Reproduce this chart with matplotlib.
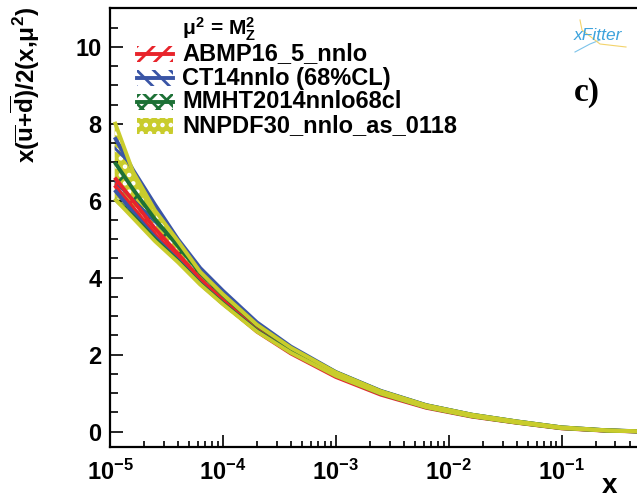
import matplotlib
matplotlib.use("Agg")
import matplotlib.pyplot as plt
from matplotlib.patches import Rectangle
from matplotlib.lines import Line2D
from matplotlib.ticker import LogLocator, NullFormatter, MultipleLocator

plt.rcParams['font.family'] = 'Liberation Sans'
plt.rcParams['font.weight'] = 'bold'
plt.rcParams['mathtext.fontset'] = 'custom'
plt.rcParams['mathtext.rm'] = 'Liberation Sans:bold'
plt.rcParams['mathtext.it'] = 'Liberation Sans:bold'
plt.rcParams['mathtext.bf'] = 'Liberation Sans:bold'
plt.rcParams['hatch.linewidth'] = 2.0

# x grid and band edges for x(ubar+dbar)/2 at mu^2 = MZ^2
x = [1.1e-5, 1.6e-5, 2.5e-5, 4e-5, 6.3e-5, 1e-4, 2e-4, 4e-4, 1e-3, 2.5e-3,
     6.3e-3, 1.6e-2, 4e-2, 0.1, 0.25, 0.5, 1.0]

abmp_up = [6.6, 6.0, 5.28, 4.62, 3.97, 3.42, 2.67, 2.09, 1.47, 1.0,
           0.645, 0.41, 0.245, 0.095, 0.028, 0.005, 0.0]
abmp_lo = [6.4, 5.82, 5.13, 4.5, 3.87, 3.34, 2.6, 2.03, 1.42, 0.96,
           0.62, 0.39, 0.23, 0.085, 0.022, 0.003, 0.0]

ct14_up = [7.65, 6.8, 5.9, 5.0, 4.25, 3.66, 2.84, 2.21, 1.55, 1.06,
           0.69, 0.44, 0.265, 0.11, 0.035, 0.008, 0.0]
ct14_lo = [6.28, 5.7, 5.05, 4.45, 3.85, 3.33, 2.62, 2.06, 1.46, 0.99,
           0.64, 0.405, 0.24, 0.095, 0.027, 0.004, 0.0]

mmht_up = [7.0, 6.3, 5.52, 4.82, 4.12, 3.55, 2.77, 2.17, 1.54, 1.05,
           0.685, 0.44, 0.265, 0.11, 0.033, 0.006, 0.0]
mmht_lo = [6.05, 5.6, 5.0, 4.43, 3.84, 3.33, 2.62, 2.06, 1.46, 0.99,
           0.635, 0.4, 0.235, 0.09, 0.027, 0.004, 0.0]

nnpdf_up = [8.05, 6.75, 5.75, 4.95, 4.15, 3.57, 2.78, 2.18, 1.54, 1.05,
            0.685, 0.44, 0.265, 0.11, 0.035, 0.006, 0.0]
nnpdf_lo = [6.05, 5.55, 4.95, 4.4, 3.82, 3.31, 2.6, 2.05, 1.45, 0.99,
            0.635, 0.4, 0.235, 0.09, 0.025, 0.004, 0.0]

names = ['ABMP16_5_nnlo', 'CT14nnlo (68%CL)', 'MMHT2014nnlo68cl', 'NNPDF30_nnlo_as_0118']
colors = ['#e8242b', '#3a55a6', '#1d7136', '#c9cc2c']
hatches = ['//', '\\\\', 'xx', '..']
band_hatches = ['/', '\\', 'x', '..']
uppers = [abmp_up, ct14_up, mmht_up, nnpdf_up]
lowers = [abmp_lo, ct14_lo, mmht_lo, nnpdf_lo]

W, H = 637, 500
fig = plt.figure(figsize=(6.37, 5.0), dpi=100)
ax = fig.add_axes([110 / W, 53 / H, 527 / W, 438.7 / H])

# hatched fills first, NNPDF at the bottom so the other edges stay visible
for i in [3, 2, 1, 0]:
    if i == 3:
        ax.fill_between(x, lowers[i], uppers[i], facecolor=colors[i], edgecolor='white',
                        hatch=band_hatches[i], linewidth=0, zorder=1)
    else:
        ax.fill_between(x, lowers[i], uppers[i], facecolor='none', edgecolor=colors[i],
                        hatch=band_hatches[i], linewidth=0, zorder=2)

for i in range(4):
    ax.plot(x, uppers[i], color=colors[i], lw=2.8, zorder=3 + i, solid_capstyle='butt')
    ax.plot(x, lowers[i], color=colors[i], lw=2.8, zorder=3 + i, solid_capstyle='butt')

ax.set_xscale('log')
ax.set_xlim(1e-5, 10 ** (-0.332))
ax.set_ylim(-0.4, 11.0)
ax.spines['right'].set_visible(False)

ax.xaxis.set_major_locator(LogLocator(base=10, numticks=10))
ax.xaxis.set_minor_locator(LogLocator(base=10, subs=range(2, 10), numticks=20))
ax.xaxis.set_minor_formatter(NullFormatter())
ax.yaxis.set_major_locator(MultipleLocator(2))
ax.yaxis.set_minor_locator(MultipleLocator(0.5))

ax.tick_params(which='both', direction='in', top=False, right=False, width=1.2)
ax.tick_params(axis='y', which='major', length=9.5, labelsize=17, pad=6)
ax.tick_params(axis='y', which='minor', length=5.5)
ax.tick_params(axis='x', which='major', length=9, labelsize=17, pad=9)
ax.tick_params(axis='x', which='minor', length=4.5)
for s in ax.spines.values():
    s.set_linewidth(1.6)

# axis titles
fig.text(25 / W, 1 - 6 / H, r'x($\overline{\mathrm{u}}$+$\overline{\mathrm{d}}$)/2(x,$\mu^{2}$)',
         rotation=90, ha='center', va='top', fontsize=17.5)
fig.text(609 / W, 1 - 493 / H, 'x', ha='center', va='baseline', fontsize=20)

# legend
fig.text(182 / W, 1 - 29 / H, r'$\mu^{2}$ = M$_{Z}^{2}$', ha='left', va='center', fontsize=15)
rows = [54, 78, 102, 126]
for i in range(4):
    yc = rows[i]
    if i == 3:
        fig.add_artist(Rectangle((137 / W, 1 - (yc + 7.5) / H), 36 / W, 15 / H,
                                 transform=fig.transFigure, facecolor=colors[i],
                                 edgecolor='white', hatch='..', linewidth=0))
    else:
        fig.add_artist(Rectangle((137 / W, 1 - (yc + 7.5) / H), 36 / W, 15 / H,
                                 transform=fig.transFigure, facecolor='none',
                                 edgecolor=colors[i], hatch=hatches[i], linewidth=0))
        fig.add_artist(Line2D([137 / W, 173 / W], [1 - yc / H, 1 - yc / H],
                              transform=fig.transFigure, color=colors[i], lw=2.8))
    fig.text(182 / W, 1 - yc / H, names[i], ha='left', va='center', fontsize=17)

# panel tag and logo
fig.text(587 / W, 1 - 93 / H, 'c)', ha='center', va='center', fontsize=24,
         family='Liberation Serif', weight='bold')
fig.add_artist(Line2D([575 / W, 590 / W, 600 / W], [1 - 52 / H, 1 - 44 / H, 1 - 40 / H],
                      transform=fig.transFigure, color='#7cc3ea', lw=0.8))
fig.add_artist(Line2D([580 / W, 582 / W, 600 / W, 626 / W],
                      [1 - 20 / H, 1 - 30 / H, 1 - 44 / H, 1 - 47 / H],
                      transform=fig.transFigure, color='#f3d36b', lw=0.8))
fig.text(598 / W, 1 - 36 / H, 'xFitter', ha='center', va='center', fontsize=12.5,
         style='italic', weight='normal', color='#3ea3dc')

fig.savefig('out.png', dpi=100)
